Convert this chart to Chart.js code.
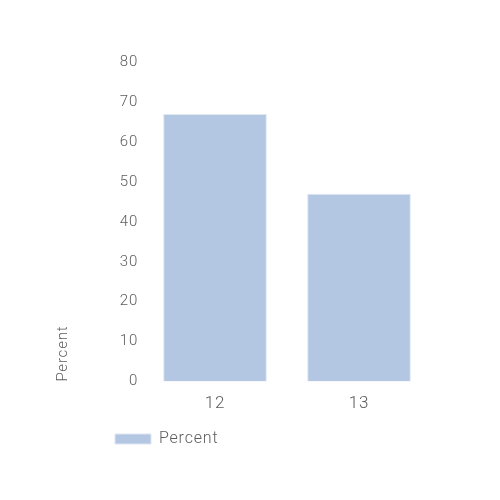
<!DOCTYPE html>
<html>
<head>
<meta charset="utf-8">
<script src="https://cdn.jsdelivr.net/npm/chart.js@4"></script>
<style>
html,body{margin:0;padding:0;background:#fff;}
#wrap{width:500px;height:500px;}
</style>
</head>
<body>
<div id="wrap"><canvas id="c"></canvas></div>
<script>
// data
const categories = ["12", "13"];
const percentValues = [67, 47];
const seriesName = "Percent";

const txt = "#5c5c5c";
const fam = "Roboto, sans-serif";

// nudge legend to sit under the axis, and space the letters a bit
const tweaks = {
  id: "tweaks",
  beforeLayout(chart){ chart.ctx.letterSpacing = "0.8px"; },
  beforeDraw(chart){ chart.ctx.letterSpacing = "0.8px"; },
  afterLayout(chart){
    chart.legend.left += 65;
    chart.legend.right += 65;
  }
};

new Chart(document.getElementById("c"), {
  type: "bar",
  data: {
    labels: categories,
    datasets: [{
      label: seriesName,
      data: percentValues,
      backgroundColor: "#b3c6e2",
      borderColor: "#dfe7f3",
      borderWidth: 1,
      barPercentage: 0.72,
      categoryPercentage: 1
    }]
  },
  options: {
    responsive: true,
    maintainAspectRatio: false,
    animation: false,
    devicePixelRatio: 1,
    layout: { padding: { left: 45, right: 69, top: 62, bottom: 43 } },
    plugins: {
      tooltip: { enabled: false },
      legend: {
        position: "bottom",
        align: "start",
        labels: {
          boxWidth: 36,
          boxHeight: 10,
          padding: 5,
          color: txt,
          font: { family: fam, size: 16, weight: 300 }
        }
      }
    },
    scales: {
      x: {
        grid: { display: false, drawTicks: false },
        border: { display: false },
        ticks: { color: txt, padding: 12, font: { family: fam, size: 17, weight: 300 } }
      },
      y: {
        min: 0, max: 80,
        grid: { display: false, drawTicks: false },
        border: { display: false },
        afterFit(scale){ scale.width = 98; },
        ticks: { stepSize: 10, color: txt, padding: 5, font: { family: fam, size: 15, weight: 300 } },
        title: {
          display: true,
          text: "Percent",
          align: "start",
          color: txt,
          padding: { top: 9, bottom: 0 },
          font: { family: fam, size: 15, weight: 300 }
        }
      }
    }
  },
  plugins: [tweaks]
});
</script>
</body>
</html>
